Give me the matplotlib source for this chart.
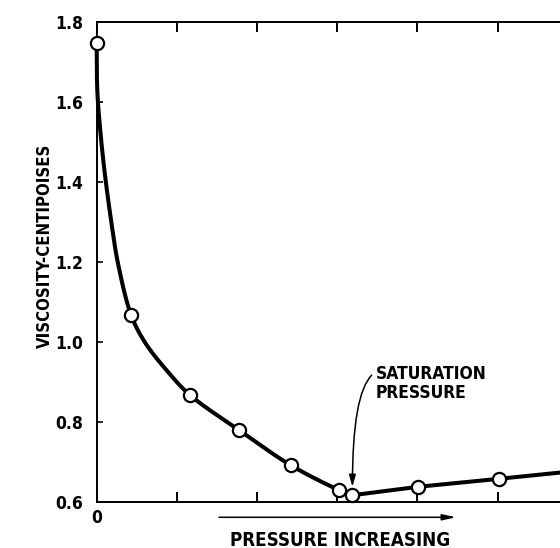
import numpy as np
import matplotlib
matplotlib.use("Agg")
import matplotlib.pyplot as plt

# ---- data ----
# marker points (pressure in tick units, viscosity in centipoises)
pts_x = [0.00, 0.43, 1.16, 1.78, 2.42, 3.02, 3.19, 4.01, 5.02]
pts_y = [1.748, 1.067, 0.868, 0.779, 0.692, 0.630, 0.617, 0.638, 0.658]

# traced curve, below saturation pressure (smooth branch)
curve_x = [0.00, 0.0075, 0.045, 0.097, 0.185, 0.266, 0.43, 0.602, 0.873, 1.16, 1.78, 2.42, 3.02, 3.19]
curve_y = [1.748, 1.628, 1.528, 1.428, 1.296, 1.196, 1.067, 0.999, 0.929, 0.868, 0.779, 0.692, 0.630, 0.617]

# traced line above saturation pressure (straight branch)
line_x = [3.19, 4.01, 5.02, 5.80]
line_y = [0.617, 0.638, 0.658, 0.674]

y_ticks = [0.6, 0.8, 1.0, 1.2, 1.4, 1.6, 1.8]
y_tick_labels = ["0.6", "0.8", "1.0", "1.2", "1.4", "1.6", "1.8"]
x_ticks = [0, 1, 2, 3, 4, 5]
x_tick_labels = ["0", "", "", "", "", ""]

sat_x, sat_y = 3.19, 0.617

FONT = ["DejaVu Sans", "Liberation Sans Narrow", "DejaVu Sans Condensed"]
plt.rcParams["font.family"] = FONT
plt.rcParams["font.stretch"] = "condensed"
plt.rcParams["font.weight"] = "bold"


def catmull_rom(P, n=40):
    P = np.asarray(P, float)
    Q = np.vstack([2 * P[0] - P[1], P, 2 * P[-1] - P[-2]])
    out = []
    for i in range(1, len(Q) - 2):
        p0, p1, p2, p3 = Q[i - 1], Q[i], Q[i + 1], Q[i + 2]
        t0 = 0.0
        t1 = t0 + np.linalg.norm(p1 - p0) ** 0.5 + 1e-9
        t2 = t1 + np.linalg.norm(p2 - p1) ** 0.5 + 1e-9
        t3 = t2 + np.linalg.norm(p3 - p2) ** 0.5 + 1e-9
        t = np.linspace(t1, t2, n)[:, None]
        A1 = (t1 - t) / (t1 - t0) * p0 + (t - t0) / (t1 - t0) * p1
        A2 = (t2 - t) / (t2 - t1) * p1 + (t - t1) / (t2 - t1) * p2
        A3 = (t3 - t) / (t3 - t2) * p2 + (t - t2) / (t3 - t2) * p3
        B1 = (t2 - t) / (t2 - t0) * A1 + (t - t0) / (t2 - t0) * A2
        B2 = (t3 - t) / (t3 - t1) * A2 + (t - t1) / (t3 - t1) * A3
        C = (t2 - t) / (t2 - t1) * B1 + (t - t1) / (t2 - t1) * B2
        out.append(C if i == 1 else C[1:])
    return np.vstack(out)


fig = plt.figure(figsize=(5.6, 5.48), dpi=100)
ax = fig.add_axes([96.7 / 560, 1 - 502 / 548, 481 / 560, 480 / 548])
ax.set_xlim(0, 6)
ax.set_ylim(0.6, 1.8)

# smooth branch drawn through traced points in display space
disp = ax.transData.transform(np.column_stack([curve_x, curve_y]))
smooth = ax.transData.inverted().transform(catmull_rom(disp))
ax.plot(smooth[:, 0], smooth[:, 1], color="black", lw=2.9, solid_capstyle="round",
        solid_joinstyle="round", zorder=3, clip_on=False)
ax.plot(line_x, line_y, color="black", lw=2.9, zorder=3, clip_on=False)

ax.plot(pts_x, pts_y, "o", ms=9.5, mfc="white", mec="black", mew=1.6,
        zorder=4, clip_on=False)

# axes styling
for s in ["top", "bottom", "left"]:
    ax.spines[s].set_linewidth(1.4)
ax.spines["right"].set_visible(False)

ax.set_yticks(y_ticks)
ax.set_yticklabels(y_tick_labels)
ax.set_xticks(x_ticks)
ax.set_xticklabels(x_tick_labels)
ax.tick_params(axis="y", direction="in", length=4, width=1.2, pad=10,
               labelsize=12.5, right=False)
ax.tick_params(axis="x", direction="in", length=7, width=1.4, pad=5,
               labelsize=12.5, top=True)

ax.text(-0.1075, 0.533, "VISCOSITY-CENTIPOISES", transform=ax.transAxes,
        rotation=90, ha="center", va="center", fontsize=12)

# saturation pressure annotation
ax.text(3.484, 0.897, "SATURATION\nPRESSURE", ha="left", va="center",
        fontsize=12.5, linespacing=1.05)
ax.annotate("", xy=(sat_x, sat_y + 0.021), xytext=(3.43, 0.917),
            arrowprops=dict(arrowstyle="-|>,head_length=0.7,head_width=0.2",
                            connectionstyle="angle3,angleA=45,angleB=90",
                            color="black", lw=1.1, shrinkA=0, shrinkB=0))

# pressure increasing arrow
ax.annotate("", xy=(4.48, 0.5618), xytext=(1.525, 0.5618),
            xycoords="data", annotation_clip=False,
            arrowprops=dict(arrowstyle="-|>,head_length=0.8,head_width=0.18",
                            color="black", lw=1.1, shrinkA=0, shrinkB=0))
ax.text(3.04, 0.505, "PRESSURE INCREASING", ha="center", va="center",
        fontsize=13.5, clip_on=False)

fig.savefig("out.png", dpi=100)
